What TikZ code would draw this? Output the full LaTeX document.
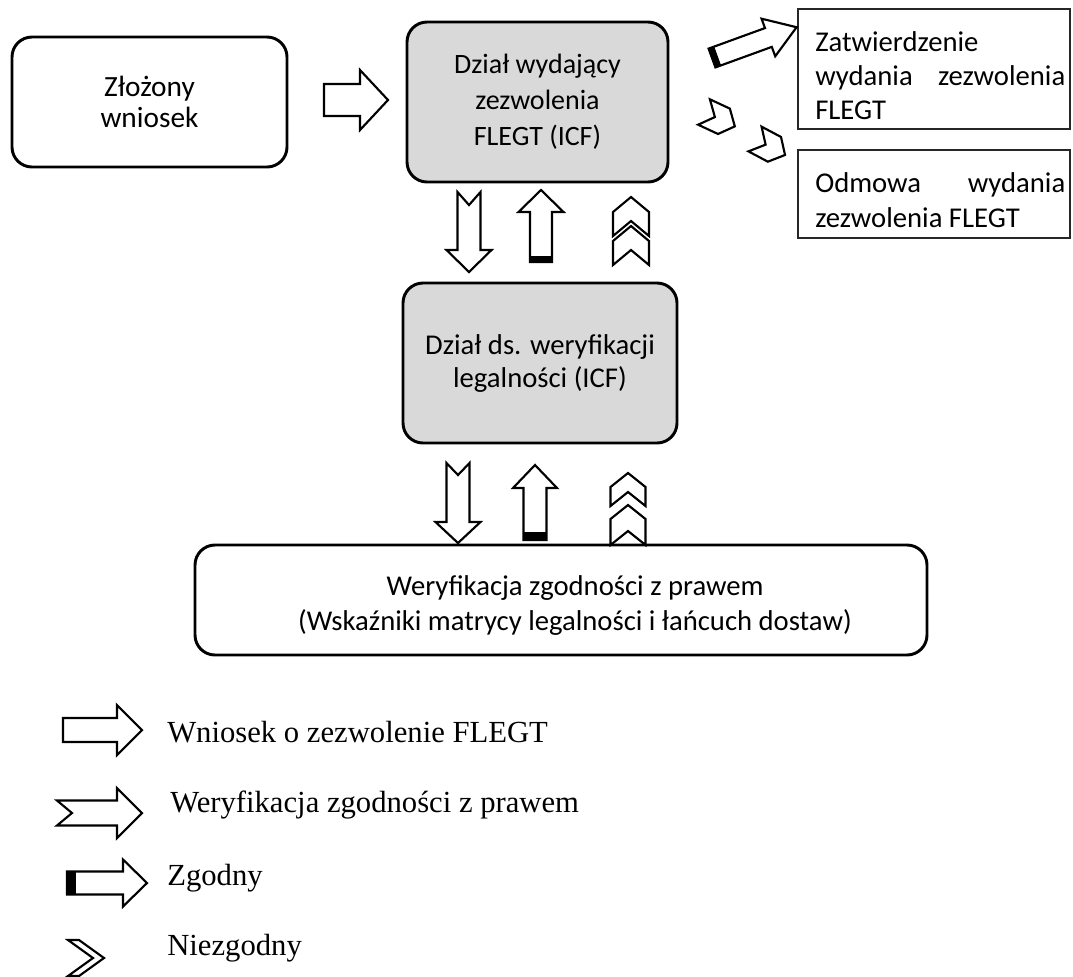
\documentclass[tikz,border=0pt]{standalone}
\usepackage{fontspec}
\setmainfont{Liberation Serif}
\newfontfamily\boxfont{Carlito}
\definecolor{boxgray}{HTML}{D9D9D9}
\tikzset{
  arrline/.style={draw=black, fill=white, line width=1.6pt, line join=miter},
  pics/plainarr/.style n args={4}{code={
    \path[arrline] (0,-#2) -- ({#1-#4},-#2) -- ({#1-#4},-#3) -- (#1,0) -- ({#1-#4},#3) -- ({#1-#4},#2) -- (0,#2) -- cycle;}},
  pics/notcharr/.style n args={5}{code={
    \path[arrline] (0,-#2) -- ({#1-#4},-#2) -- ({#1-#4},-#3) -- (#1,0) -- ({#1-#4},#3) -- ({#1-#4},#2) -- (0,#2) -- (#5,0) -- cycle;}},
  pics/zgarr/.style n args={5}{code={
    \path[arrline] (0,-#2) -- ({#1-#4},-#2) -- ({#1-#4},-#3) -- (#1,0) -- ({#1-#4},#3) -- ({#1-#4},#2) -- (0,#2) -- cycle;
    \fill[black] (0,-#2) rectangle (#5,#2);}},
  pics/chev/.style n args={3}{code={
    \path[arrline] (0,-#1) -- (#2,-#1) -- ({#2+#3},0) -- (#2,#1) -- (0,#1) -- (#3,0) -- cycle;}},
}
\begin{document}
\begin{tikzpicture}[x=0.75pt,y=-0.75pt,
  rbox/.style={draw=black, line width=2.2pt, rounded corners=15pt, inner sep=0pt, align=center},
  gbox/.style={rbox, fill=boxgray},
  sbox/.style={draw=black!85, line width=1.6pt, inner sep=0pt},
  btxt/.style={inner sep=0pt},
  ltxt/.style={font=\fontsize{23}{27}\selectfont, anchor=base west, inner sep=0pt},
]
\useasboundingbox (0,0) rectangle (1073,976);
\fill[white] (0,0) rectangle (1073,976);

% boxes
\node[rbox, minimum width=206.25pt, minimum height=97.5pt,
  font=\boxfont\fontsize{22}{23.25}\selectfont] (zloz) at (149.5,102) {Złożony\\wniosek};
\node[gbox, minimum width=195.75pt, minimum height=120pt,
  font=\boxfont\fontsize{21}{27}\selectfont] (dwz) at (537.5,102) {Dział wydający\\zezwolenia\\FLEGT (ICF)};
\node[sbox, minimum width=204pt, minimum height=90pt] (zatw) at (934,69) {};
\node[btxt, anchor=west, align=left, font=\boxfont\fontsize{21.5}{25.5}\selectfont] (zatwt) at (815,76)
  {Zatwierdzenie\\\makebox[187.5pt][s]{wydania zezwolenia}\\FLEGT};
\node[sbox, minimum width=204pt, minimum height=66pt] (odm) at (934,194) {};
\node[btxt, anchor=west, align=left, font=\boxfont\fontsize{21.5}{26}\selectfont] (odmt) at (815,200)
  {\makebox[187.5pt][s]{Odmowa wydania}\\zezwolenia FLEGT};
\node[gbox, minimum width=205.5pt, minimum height=120pt,
  font=\boxfont\fontsize{21.5}{24.75}\selectfont] (dwl) at (540,363) {Dział ds. weryfikacji\\legalności (ICF)};
\node[rbox, minimum width=549pt, minimum height=82.5pt] (wer) at (561,600) {};
\node[btxt, align=center, font=\boxfont\fontsize{21.5}{26.25}\selectfont] (wert) at (575,605)
  {Weryfikacja zgodności z prawem\\(Wskaźniki matrycy legalności i łańcuch dostaw)};

% arrows in the diagram
\pic at (324,100) {plainarr={64}{16}{30}{28}};
\pic[rotate=20] at (712,58) {zgarr={90}{10}{20}{30}{6}};
\pic[rotate=-25] at (704,112) {chev={14}{22}{12}};
\pic[rotate=-28] at (755,139) {chev={14}{22}{12}};

\pic[rotate=-90] at (469,192) {notcharr={80}{11.5}{22.5}{22}{13}};
\pic[rotate=90] at (541,262) {zgarr={72}{11}{22.5}{22}{6}};
\pic[rotate=90] at (631,236) {chev={18}{24}{15}};
\pic[rotate=90] at (631,265) {chev={18}{24}{15}};

\pic[rotate=-90] at (458,463) {notcharr={80}{11.5}{22.5}{21}{12}};
\pic[rotate=90] at (535,540) {zgarr={75}{11.5}{22}{23}{8}};
\pic[rotate=90] at (628,506) {chev={17.5}{19}{14}};
\pic[rotate=90] at (628,545) {chev={17.5}{26}{14}};

% legend
\pic at (63,730) {plainarr={79}{12}{25}{25}};
\pic at (57,813) {notcharr={85}{12.5}{25}{25}{15}};
\pic at (67,883) {zgarr={80}{11.5}{23.5}{24}{9}};
\pic at (68,958) {chev={18}{11}{25}};

\node[ltxt] (l1) at (167,742) {Wniosek o zezwolenie FLEGT};
\node[ltxt] (l2) at (170,812) {Weryfikacja zgodności z prawem};
\node[ltxt] (l3) at (167,885) {Zgodny};
\node[ltxt] (l4) at (167,955) {Niezgodny};
\end{tikzpicture}
\end{document}
